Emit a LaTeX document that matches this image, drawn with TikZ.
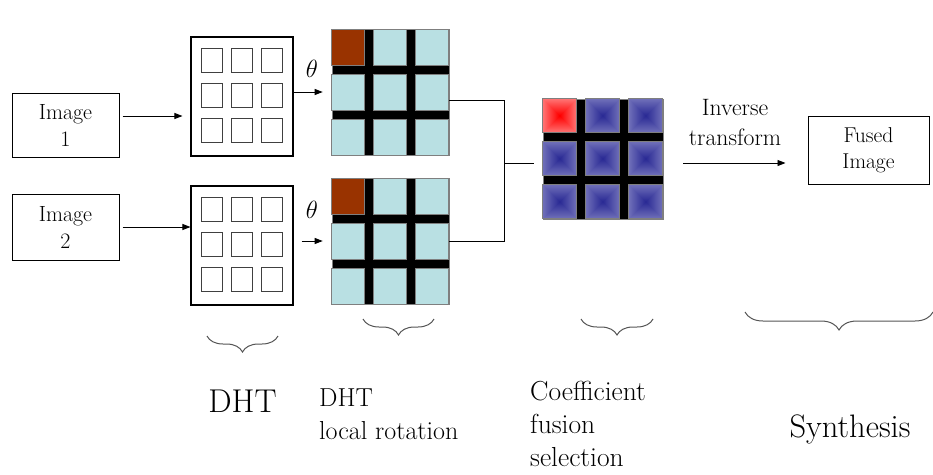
\documentclass[tikz,border=0pt]{standalone}
\usepackage{fontspec}
\usetikzlibrary{arrows.meta,decorations.pathreplacing}
\definecolor{cellblue}{HTML}{B9E0E3}
\definecolor{cellbrown}{HTML}{993300}
\definecolor{cellborder}{HTML}{7F7F7F}
\definecolor{fusout}{HTML}{6E6EB8}
\definecolor{fusin}{HTML}{2B2B95}
\definecolor{redout}{HTML}{FF7272}
\definecolor{redin}{HTML}{FF0000}
\definecolor{bracegray}{HTML}{555555}
\newcommand{\shadecell}[6]{%
  \foreach \k in {0,...,16}{%
    \pgfmathsetmacro\p{100*\k/16}%
    \fill[#6!\p!#5] ({#1+\k*#3/34},{#2+\k*#4/34}) rectangle ({#1+#3-\k*#3/34},{#2+#4-\k*#4/34});
  }%
  \draw[cellborder,line width=0.6pt] (#1,#2) rectangle ({#1+#3},{#2+#4});%
}
\tikzset{
  box/.style={draw=black,line width=1pt,inner sep=0pt,align=center,font=\fontsize{22}{27}\selectfont},
  dhtgrid/.style={draw=black,line width=1.1pt,inner sep=0pt,minimum width=102pt,minimum height=119pt},
  smallsq/.style={draw=black!75,line width=0.9pt},
  rotgrid/.style={fill=black,draw=cellborder,line width=0.6pt,inner sep=0pt,minimum width=117pt,minimum height=126pt},
  fusgrid/.style={fill=black,draw=cellborder,line width=0.6pt,inner sep=0pt,minimum width=120pt,minimum height=120pt},
  cell/.style={fill=cellblue,draw=cellborder,line width=0.6pt},
  arr/.style={draw=black,line width=0.9pt,-{Triangle[length=8pt,width=6pt]}},
  conn/.style={draw=black,line width=0.9pt},
  brc/.style={draw=bracegray,line width=1pt,decorate},
  lbl/.style={inner sep=0pt}
}
\begin{document}
\begin{tikzpicture}[x=1pt,y=-1pt]
\useasboundingbox (0,0) rectangle (933,474);
\fill[white] (0,0) rectangle (933,474);

% input boxes
\node[box,minimum width=107pt,minimum height=64pt] (img1) at (65.5,125) {Image\\1};
\node[box,minimum width=107pt,minimum height=66pt] (img2) at (65.5,227) {Image\\2};

% DHT grids
\node[dhtgrid] (dht1) at (242,96.5) {};
\node[dhtgrid] (dht2) at (242,245.5) {};
\foreach \g in {dht1,dht2}{
  \begin{scope}[shift={(\g.north west)}]
    \foreach \cx in {11,41,71}{
      \foreach \cy in {12,47,82}{
        \draw[smallsq] (\cx,\cy) rectangle +(21,24);
      }
    }
  \end{scope}
}

% rotated grids
\node[rotgrid] (rot1) at (390.5,92.5) {};
\node[rotgrid] (rot2) at (390.5,241.5) {};
\foreach \g in {rot1,rot2}{
  \begin{scope}[shift={(\g.north west)}]
    \foreach \cx in {0,42,84}{
      \foreach \cy in {0,45,90}{
        \filldraw[cell] (\cx,\cy) rectangle +(33,36);
      }
    }
    \filldraw[fill=cellbrown,draw=cellborder,line width=0.6pt] (0,0) rectangle (33,36);
  \end{scope}
}

% fusion grid
\node[fusgrid] (fus) at (603,159) {};
\begin{scope}[shift={(fus.north west)}]
  \foreach \cx in {0,43,86}{
    \foreach \cy in {0,43,86}{
      \shadecell{\cx}{\cy}{34}{34}{fusout}{fusin}
    }
  }
  \shadecell{0}{0}{34}{34}{redout}{redin}
\end{scope}

% output box
\node[box,minimum width=121pt,minimum height=68pt,font=\fontsize{21.5}{26}\selectfont] (fused) at (868.5,150) {Fused\\Image};

% arrow rows
\coordinate (t1) at (340,92);
\coordinate (t2) at (340,241);

% arrows
\draw[arr,shorten <=3pt,shorten >=8pt] ([yshift=9pt]img1.east) -- ([yshift=9pt]img1.east -| dht1.west);
\draw[arr,shorten <=3pt] (img2.east) -- (img2.east -| dht2.west);
\draw[arr,shorten >=9pt] (dht1.east |- t1) -- (rot1.west |- t1);
\draw[arr,shorten <=8pt,shorten >=9pt] (dht2.east |- t2) -- (rot2.west |- t2);

\node[lbl,font=\fontsize{24}{24}\selectfont] (th1) at (312,69) {$\theta$};
\node[lbl,font=\fontsize{24}{24}\selectfont] (th2) at (312,210) {$\theta$};

% join to fusion
\coordinate (j) at (504,163);
\draw[conn] ([yshift=-7.5pt]rot1.east) -| (j);
\draw[conn] (rot2.east) -| (j);
\draw[conn,shorten >=9pt] (j) -- (j -| fus.west);

% inverse transform
\draw[arr,shorten <=20pt,shorten >=22pt] ([yshift=-4pt]fus.east) -- ([yshift=-4pt]fus.east -| fused.west);
\node[lbl,align=center,font=\fontsize{23.7}{30}\selectfont] (inv) at (735,122) {Inverse\\transform};

% braces
\draw[brc,decoration={brace,amplitude=16pt}] (278,336) -- (207,336);
\draw[brc,decoration={brace,amplitude=16pt}] (434,319) -- (363,319);
\draw[brc,decoration={brace,amplitude=16pt}] (653,319) -- (581,319);
\draw[brc,decoration={brace,amplitude=18pt}] (933,312) -- (745,312);

% labels
\node[lbl,anchor=base,font=\fontsize{33}{33}\selectfont] (l1) at (242.5,412) {DHT};
\node[lbl,anchor=north west,align=left,font=\fontsize{26}{33}\selectfont] (l2) at (319,389) {DHT\\local rotation};
\node[lbl,anchor=north west,align=left,font=\fontsize{27.5}{33}\selectfont] (l3) at (530,381) {Coefficient\\fusion\\selection};
\node[lbl,anchor=base,font=\fontsize{32.5}{33}\selectfont] (l4) at (850,437) {Synthesis};
\end{tikzpicture}
\end{document}
